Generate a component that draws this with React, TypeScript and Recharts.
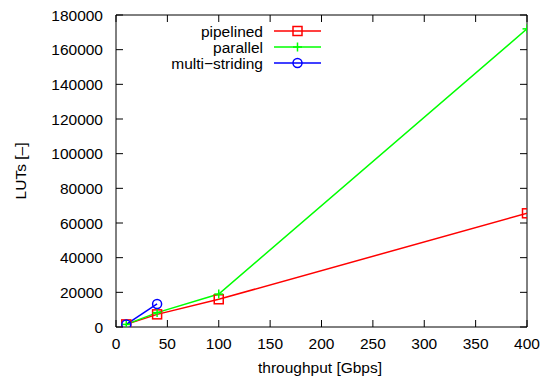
import { LineChart, Line, XAxis, YAxis, ReferenceLine } from 'recharts';

const throughput = [10, 40, 100, 400];
const pipelinedLuts = [1500, 7300, 16000, 65600];
const parallelLuts = [1500, 8300, 19000, 172000];
const multiThroughput = [10, 40];
const multiStridingLuts = [1500, 13300];

const xTicks = [0, 50, 100, 150, 200, 250, 300, 350, 400];
const yTicks = [0, 20000, 40000, 60000, 80000, 100000, 120000, 140000, 160000, 180000];

const seriesNames = ['pipelined', 'parallel', 'multi\u2212striding'];
const seriesColors = ['#ff0000', '#00ff00', '#0000ff'];

const pipelinedData = throughput.map((x, i) => ({ x, y: pipelinedLuts[i] }));
const parallelData = throughput.map((x, i) => ({ x, y: parallelLuts[i] }));
const multiData = multiThroughput.map((x, i) => ({ x, y: multiStridingLuts[i] }));

// plot frame (pixels) - used for the gnuplot-style inward ticks
const LEFT = 116;
const RIGHT = 527;
const TOP = 15;
const BOTTOM = 327;
const TICK = 7;
const FONT = '"Liberation Sans", Arial, sans-serif';
const FS = 15.5;

function Square({ cx, cy, color }: any) {
  if (cx == null || cy == null) return null;
  return <rect x={cx - 4.5} y={cy - 4.5} width={9} height={9} fill="none" stroke={color} strokeWidth={1.5} />;
}

function Plus({ cx, cy, color }: any) {
  if (cx == null || cy == null) return null;
  return (
    <g stroke={color} strokeWidth={1.5}>
      <line x1={cx - 4.5} y1={cy} x2={cx + 4.5} y2={cy} />
      <line x1={cx} y1={cy - 4.5} x2={cx} y2={cy + 4.5} />
    </g>
  );
}

function Circle({ cx, cy, color }: any) {
  if (cx == null || cy == null) return null;
  return <circle cx={cx} cy={cy} r={4.5} fill="none" stroke={color} strokeWidth={1.5} />;
}

const markers = [Square, Plus, Circle];

function XTick({ x, payload }: any) {
  return (
    <g>
      <line x1={x} y1={BOTTOM} x2={x} y2={BOTTOM - TICK} stroke="#000" />
      <line x1={x} y1={TOP} x2={x} y2={TOP + TICK} stroke="#000" />
      <text x={x} y={349} textAnchor="middle" fontSize={FS} fontFamily={FONT} fill="#000">
        {payload.value}
      </text>
    </g>
  );
}

function YTick({ y, payload }: any) {
  return (
    <g>
      <line x1={LEFT} y1={y} x2={LEFT + TICK} y2={y} stroke="#000" />
      <line x1={RIGHT} y1={y} x2={RIGHT - TICK} y2={y} stroke="#000" />
      <text x={103} y={y} dy={5.5} textAnchor="end" fontSize={FS} fontFamily={FONT} fill="#000">
        {payload.value}
      </text>
    </g>
  );
}

// gnuplot-style key, top left inside the frame
function Key() {
  return (
    <g>
      {seriesNames.map((name, i) => {
        const Marker = markers[i];
        const cy = 31 + i * 16;
        return (
          <g key={name}>
            <text x={263} y={cy} dy={5.5} textAnchor="end" fontSize={FS} fontFamily={FONT} fill="#000">
              {name}
            </text>
            <line x1={274} y1={cy} x2={321} y2={cy} stroke={seriesColors[i]} strokeWidth={1.5} />
            <Marker cx={297.5} cy={cy} color={seriesColors[i]} />
          </g>
        );
      })}
    </g>
  );
}

export default function App() {
  return (
    <div style={{ position: 'absolute', left: 0, top: 0 }}>
      <LineChart width={544} height={378} margin={{ top: TOP, right: 544 - RIGHT, bottom: 0, left: 0 }}>
        <XAxis
          dataKey="x"
          type="number"
          domain={[0, 400]}
          ticks={xTicks}
          height={378 - BOTTOM}
          tick={<XTick />}
          tickLine={false}
          stroke="#000"
          allowDataOverflow
        />
        <YAxis
          dataKey="y"
          type="number"
          domain={[0, 180000]}
          ticks={yTicks}
          width={LEFT}
          tick={<YTick />}
          tickLine={false}
          stroke="#000"
          allowDataOverflow
        />
        <ReferenceLine y={180000} stroke="#000" ifOverflow="visible" />
        <ReferenceLine x={400} stroke="#000" ifOverflow="visible" />
        <Line
          data={pipelinedData}
          dataKey="y"
          name={seriesNames[0]}
          stroke={seriesColors[0]}
          strokeWidth={1.5}
          dot={(p: any) => <Square key={`p${p.index}`} cx={p.cx} cy={p.cy} color={seriesColors[0]} />}
          isAnimationActive={false}
        />
        <Line
          data={parallelData}
          dataKey="y"
          name={seriesNames[1]}
          stroke={seriesColors[1]}
          strokeWidth={1.5}
          dot={(p: any) => <Plus key={`g${p.index}`} cx={p.cx} cy={p.cy} color={seriesColors[1]} />}
          isAnimationActive={false}
        />
        <Line
          data={multiData}
          dataKey="y"
          name={seriesNames[2]}
          stroke={seriesColors[2]}
          strokeWidth={1.5}
          dot={(p: any) => <Circle key={`b${p.index}`} cx={p.cx} cy={p.cy} color={seriesColors[2]} />}
          isAnimationActive={false}
        />
        <Key />
        <text x={320} y={373} textAnchor="middle" fontSize={FS} fontFamily={FONT} fill="#000">
          throughput [Gbps]
        </text>
        <text
          x={26}
          y={171}
          textAnchor="middle"
          fontSize={FS}
          fontFamily={FONT}
          fill="#000"
          transform="rotate(-90 26 171)"
        >
          LUTs [–]
        </text>
      </LineChart>
    </div>
  );
}
